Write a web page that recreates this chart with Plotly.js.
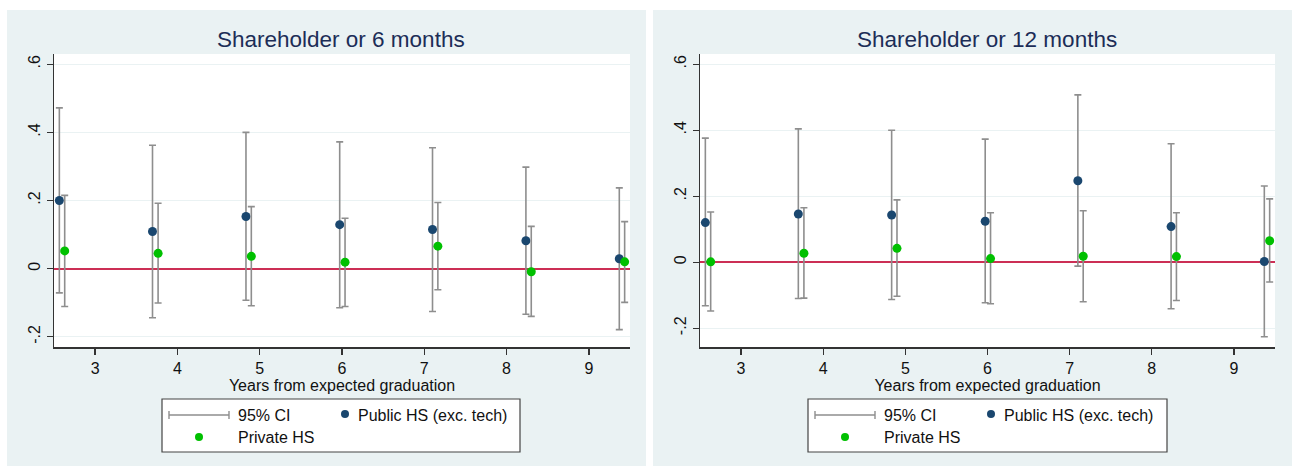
<!DOCTYPE html>
<html>
<head>
<meta charset="utf-8">
<script src="https://cdn.plot.ly/plotly-3.0.1.min.js"></script>
<style>
  html, body { margin: 0; padding: 0; background: #ffffff; }
  #chart { width: 1297px; height: 466px; }
</style>
</head>
<body>
<div id="chart"></div>
<script>
// Event-study estimates by years from expected graduation, two outcome definitions.
const panelTitles = ["Shareholder or 6 months", "Shareholder or 12 months"];
const xTickVals = [3, 4, 5, 6, 7, 8, 9];
const yTickVals = [-0.2, 0, 0.2, 0.4, 0.6];
const yTickText = ["-.2", "0", ".2", ".4", ".6"];

// Horizontal positions (slightly dodged so the two groups do not overlap)
const publicX  = [2.565, 3.697, 4.833, 5.972, 7.100, 8.235, 9.370];
const privateX = [2.630, 3.765, 4.898, 6.037, 7.165, 8.300, 9.435];

// Panel 1: shareholder or 6 months
const pub6     = [0.200, 0.109, 0.153, 0.129, 0.115, 0.082, 0.029];
const pub6Lo   = [-0.071, -0.144, -0.093, -0.115, -0.126, -0.134, -0.179];
const pub6Hi   = [0.472, 0.362, 0.400, 0.372, 0.355, 0.298, 0.237];
const priv6    = [0.052, 0.045, 0.036, 0.019, 0.066, -0.009, 0.020];
const priv6Lo  = [-0.111, -0.101, -0.109, -0.111, -0.062, -0.140, -0.099];
const priv6Hi  = [0.215, 0.192, 0.182, 0.148, 0.194, 0.124, 0.138];

// Panel 2: shareholder or 12 months
const pub12    = [0.120, 0.146, 0.143, 0.124, 0.247, 0.108, 0.002];
const pub12Lo  = [-0.132, -0.110, -0.113, -0.123, -0.012, -0.141, -0.226];
const pub12Hi  = [0.376, 0.404, 0.400, 0.373, 0.507, 0.359, 0.231];
const priv12   = [0.001, 0.027, 0.042, 0.011, 0.018, 0.017, 0.065];
const priv12Lo = [-0.148, -0.109, -0.103, -0.126, -0.120, -0.116, -0.060];
const priv12Hi = [0.152, 0.165, 0.189, 0.150, 0.156, 0.150, 0.192];

const legendLabels = ["95% CI", "Public HS (exc. tech)", "Private HS"];

// Styling
const W = 1297, H = 466;
const BLUE = "#1a476f", GREEN = "#00c000", CI_GRAY = "#8e8e8e";
const ZERO_RED = "#cc2f55", PANEL_BG = "#eaf2f3", TITLE_COLOR = "#1c2d57";
const FONT = "Liberation Sans, Arial, sans-serif";

const px = x => x / W;
const py = y => 1 - y / H;

function estTrace(x, y, lo, hi, color, xa, ya) {
  return {
    type: "scatter", mode: "markers", x: x, y: y, xaxis: xa, yaxis: ya,
    showlegend: false, hoverinfo: "x+y",
    marker: { color: color, size: 9 },
    error_y: {
      type: "data", symmetric: false,
      array: hi.map((h, i) => h - y[i]),
      arrayminus: lo.map((l, i) => y[i] - l),
      color: CI_GRAY, thickness: 1.6, width: 3.5
    }
  };
}

const traces = [
  estTrace(publicX, pub6, pub6Lo, pub6Hi, BLUE, "x", "y"),
  estTrace(privateX, priv6, priv6Lo, priv6Hi, GREEN, "x", "y"),
  estTrace(publicX, pub12, pub12Lo, pub12Hi, BLUE, "x2", "y2"),
  estTrace(privateX, priv12, priv12Lo, priv12Hi, GREEN, "x2", "y2")
];

// Panel geometry in pixels
const panels = [
  { bg: [7, 10, 646, 466], plot: [54, 54, 630, 347], yr: [-0.230, 0.630], legend: [162, 399, 520, 452], titleX: 341 },
  { bg: [653, 10, 1292, 466], plot: [700, 54, 1275, 347], yr: [-0.257, 0.631], legend: [808, 399, 1167, 452], titleX: 987 }
];

function xAxis(p) {
  return {
    domain: [px(p.plot[0]), px(p.plot[2])], range: [2.5, 9.5],
    tickvals: xTickVals, ticks: "outside", ticklen: 6, tickwidth: 1.3, tickcolor: "#333",
    showline: true, linecolor: "#333", linewidth: 1.5, showgrid: false, zeroline: false,
    tickfont: { family: FONT, size: 16, color: "#111" },
    title: { text: "Years from expected graduation", font: { family: FONT, size: 16, color: "#111" }, standoff: 0 },
    fixedrange: true
  };
}
function yAxis(p, anchor) {
  return {
    domain: [py(p.plot[3]), py(p.plot[1])], range: p.yr, anchor: anchor,
    tickvals: yTickVals, ticktext: yTickText, tickangle: -90,
    ticks: "outside", ticklen: 6, tickwidth: 1.3, tickcolor: "#333",
    showline: true, linecolor: "#333", linewidth: 1.5,
    showgrid: true, gridcolor: PANEL_BG, gridwidth: 1,
    // reference line at zero: drawn over the gridlines, under the markers
    zeroline: true, zerolinecolor: ZERO_RED, zerolinewidth: 2,
    tickfont: { family: FONT, size: 16, color: "#111" },
    fixedrange: true
  };
}

const shapes = [];
const annotations = [];

panels.forEach((p, k) => {
  // panel background
  shapes.push({ type: "rect", xref: "paper", yref: "paper", layer: "below",
    x0: px(p.bg[0]), x1: px(p.bg[2]), y0: py(p.bg[3]), y1: py(p.bg[1]),
    fillcolor: PANEL_BG, line: { width: 0 } });
  // white plot region
  shapes.push({ type: "rect", xref: "paper", yref: "paper", layer: "below",
    x0: px(p.plot[0]), x1: px(p.plot[2]), y0: py(p.plot[3]), y1: py(p.plot[1]),
    fillcolor: "#ffffff", line: { width: 0 } });

  // panel title
  annotations.push({ xref: "paper", yref: "paper", x: px(p.titleX), y: py(40),
    xanchor: "center", yanchor: "middle", showarrow: false, text: panelTitles[k],
    font: { family: FONT, size: 22.5, color: TITLE_COLOR } });

  // legend box
  const L = p.legend, x0 = L[0];
  shapes.push({ type: "rect", xref: "paper", yref: "paper",
    x0: px(L[0]), x1: px(L[2]), y0: py(L[3]), y1: py(L[1]),
    fillcolor: "#ffffff", line: { color: "#444", width: 1.2 } });
  const row1 = L[1] + 16, row2 = L[1] + 38;
  // CI glyph: horizontal bar with end caps
  shapes.push({ type: "line", xref: "paper", yref: "paper",
    x0: px(x0 + 7), x1: px(x0 + 67), y0: py(row1), y1: py(row1), line: { color: CI_GRAY, width: 1.6 } });
  [x0 + 7, x0 + 67].forEach(cx => shapes.push({ type: "line", xref: "paper", yref: "paper",
    x0: px(cx), x1: px(cx), y0: py(row1 - 4), y1: py(row1 + 4), line: { color: CI_GRAY, width: 1.4 } }));
  // dots
  const dot = (cx, cy, c) => shapes.push({ type: "circle", xref: "paper", yref: "paper",
    x0: px(cx - 4), x1: px(cx + 4), y0: py(cy + 4), y1: py(cy - 4), fillcolor: c, line: { width: 0 } });
  dot(x0 + 183, row1 - 1, BLUE);
  dot(x0 + 37, row2, GREEN);
  const lab = (tx, ty, t) => annotations.push({ xref: "paper", yref: "paper", x: px(tx), y: py(ty),
    xanchor: "left", yanchor: "middle", showarrow: false, text: t,
    font: { family: FONT, size: 16, color: "#111" } });
  lab(x0 + 74, row1, legendLabels[0]);
  lab(x0 + 194, row1, legendLabels[1]);
  lab(x0 + 74, row2, legendLabels[2]);
});

const layout = {
  width: W, height: H,
  margin: { l: 0, r: 0, t: 0, b: 0 },
  paper_bgcolor: "#ffffff", plot_bgcolor: "rgba(0,0,0,0)",
  showlegend: false,
  xaxis: xAxis(panels[0]), yaxis: yAxis(panels[0], "x"),
  xaxis2: Object.assign(xAxis(panels[1]), { anchor: "y2" }),
  yaxis2: yAxis(panels[1], "x2"),
  shapes: shapes, annotations: annotations
};
layout.xaxis.anchor = "y";

Plotly.newPlot("chart", traces, layout, { displayModeBar: false, staticPlot: true });
</script>
</body>
</html>
